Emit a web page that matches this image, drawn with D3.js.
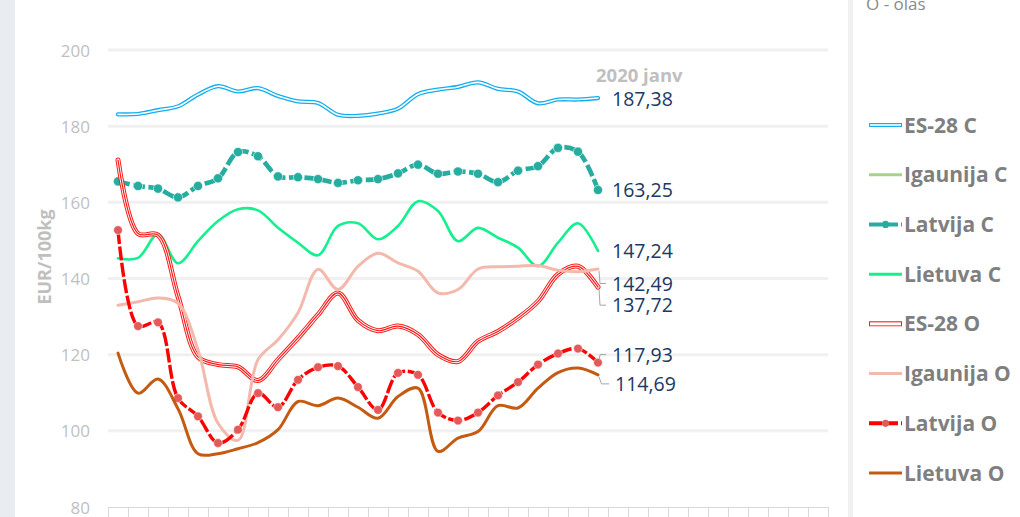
<!DOCTYPE html>
<html><head><meta charset="utf-8">
<script src="https://cdn.jsdelivr.net/npm/d3@7"></script>
<style>
html,body{margin:0;padding:0;background:#fff;overflow:hidden;}
svg{display:block;}
</style></head>
<body>
<svg id="c" width="1020" height="517"></svg>
<script>
// ---- data ----
const monthNames = ["janv","febr","marts","apr","maijs","jūn","jūl","aug","sept","okt","nov","dec"];
const years = ["2018","2019","2020"];
const categories = years.flatMap(y => monthNames.map(m => y + " " + m));
const yTicks = [80,100,120,140,160,180,200];

const seriesNames = ["ES-28 C","Igaunija C","Latvija C","Lietuva C","ES-28 O","Igaunija O","Latvija O","Lietuva O"];

const es28C     = [183.1,183.2,184.2,185.2,188.3,190.5,189.1,190.0,187.9,186.5,186.1,183.0,182.7,183.3,184.6,188.4,189.6,190.3,191.5,189.8,189.1,186.0,187.0,187.0,187.38];
const igaunijaC = [];
const latvijaC  = [165.5,164.3,163.6,161.3,164.3,166.3,173.2,172.1,166.8,166.6,166.1,165.1,165.8,166.1,167.6,169.9,167.5,168.1,167.5,165.3,168.3,169.5,174.3,173.3,163.25];
const lietuvaC  = [145.3,145.4,151.6,144.0,149.8,155.1,158.2,157.9,153.3,149.4,146.1,153.8,154.5,150.3,153.8,160.3,157.7,149.8,153.3,150.7,148.1,143.2,149.4,154.5,147.24];
const es28O     = [171.1,151.8,151.4,135.3,119.4,117.4,116.8,113.2,118.7,124.4,130.5,136.2,129.0,126.3,127.5,125.3,120.0,118.2,123.5,126.1,129.6,134.0,141.1,143.2,137.72];
const igaunijaO = [133.0,133.9,134.9,133.5,121.3,102.0,97.5,118.7,123.9,131.0,142.4,137.1,143.2,146.6,144.1,141.9,136.2,137.1,142.5,143.1,143.2,143.4,142.2,141.8,142.49];
const latvijaO  = [152.7,127.5,128.5,108.6,103.8,96.8,100.3,109.9,106.2,113.4,116.7,117.0,111.5,105.5,115.2,114.7,104.8,102.7,104.8,109.3,112.8,117.4,120.3,121.6,117.93];
const lietuvaO  = [120.4,109.9,113.6,105.8,94.0,94.0,95.3,96.9,100.3,107.7,106.6,108.6,106.2,103.3,109.0,111.2,94.6,98.1,99.8,106.6,106.0,111.2,115.3,116.5,114.69];

const seriesValues = [es28C, igaunijaC, latvijaC, lietuvaC, es28O, igaunijaO, latvijaO, lietuvaO];

const lastLabel = "2020 janv";
const legendNote = "O - olas";
const yTitle = "EUR/100kg";

// ---- styles ----
const styles = [
  {type:"double", color:"#12aeef", w:4.2, inner:1.6},
  {type:"plain",  color:"#a9d18e", w:3},
  {type:"dashdot",color:"#26ada0", w:4.6, dash:"12,3.5", marker:"#26ada0", r:4.6},
  {type:"plain",  color:"#14f08e", w:2.6},
  {type:"triple", color:"#ff1a1a", w:5, inner:3, core:1.2},
  {type:"plain",  color:"#f4b9ad", w:3},
  {type:"dashdot",color:"#ff0000", w:3.4, dash:"14,2.5", marker:"#e45a5a", r:4.4},
  {type:"plain",  color:"#c55a11", w:3}
];
// label offsets (baseline) relative to last point, leader flag
const labelOffsets = [
  {s:0, dy:8, lead:false},
  {s:2, dy:7, lead:false},
  {s:3, dy:7.5, lead:false},
  {s:5, dy:21.5, lead:true},
  {s:4, dy:25, lead:true},
  {s:6, dy:-1, lead:true},
  {s:7, dy:16, lead:true, dx:3}
];

const svg = d3.select("#c");
const W = 1020, H = 517;

// background pieces
svg.append("rect").attr("x",0).attr("y",0).attr("width",15).attr("height",H).attr("fill","#e9ecf1");
svg.append("rect").attr("x",848).attr("y",0).attr("width",5).attr("height",H).attr("fill","#f0f0f0");

const x = d3.scaleBand().domain(categories).range([108, 828]).padding(0);
const y = d3.scaleLinear().domain([80, 200]).range([507, 50]);
const cx = c => x(c) + x.bandwidth()/2;

// gridlines
svg.append("g").selectAll("line").data(yTicks.filter(t => t > 80)).join("line")
  .attr("x1",108).attr("x2",828).attr("y1",d=>y(d)).attr("y2",d=>y(d))
  .attr("stroke","#f0f0f0").attr("stroke-width",3);

// y labels
svg.append("g").selectAll("text").data(yTicks).join("text")
  .attr("x",90).attr("y",d=>y(d)+6.5).attr("text-anchor","end")
  .attr("font-family","Open Sans").attr("font-size",17).attr("fill","#bfbfbf")
  .text(d=>d);

// x axis line and ticks at category boundaries
svg.append("line").attr("x1",108).attr("x2",828).attr("y1",y(80)+0.5).attr("y2",y(80)+0.5)
  .attr("stroke","#d9d9d9").attr("stroke-width",1);
const bounds = categories.map(c => x(c)).concat([x(categories[categories.length-1]) + x.bandwidth()]);
svg.append("g").selectAll("line").data(bounds).join("line")
  .attr("x1",d=>Math.round(d)+0.5).attr("x2",d=>Math.round(d)+0.5)
  .attr("y1",y(80)).attr("y2",H)
  .attr("stroke","#d9d9d9").attr("stroke-width",1);

// y title
svg.append("text").attr("transform","translate(51,257) rotate(-90)")
  .attr("text-anchor","middle").attr("font-family","Open Sans").attr("font-weight","bold")
  .attr("font-size",18).attr("fill","#bfbfbf").text(yTitle);

// lines
const line = d3.line().x((d,i)=>cx(categories[i])).y(d=>y(d)).curve(d3.curveCatmullRom.alpha(0.5));
const gLines = svg.append("g");
seriesValues.forEach((vals, si) => {
  if (!vals.length) return;
  const st = styles[si];
  const dstr = line(vals);
  const base = gLines.append("path").attr("d",dstr).attr("fill","none")
    .attr("stroke",st.color).attr("stroke-width",st.w)
    .attr("stroke-linejoin","round").attr("stroke-linecap", st.type==="dashdot" ? "butt" : "round");
  if (st.dash) base.attr("stroke-dasharray", st.dash);
  if (st.type === "double" || st.type === "triple") {
    gLines.append("path").attr("d",dstr).attr("fill","none").attr("stroke","#fff").attr("stroke-width",st.inner).attr("stroke-linecap","round");
  }
  if (st.type === "triple") {
    gLines.append("path").attr("d",dstr).attr("fill","none").attr("stroke",st.color).attr("stroke-width",st.core).attr("stroke-linecap","round");
  }
  if (st.marker) {
    gLines.append("g").selectAll("circle").data(vals).join("circle")
      .attr("cx",(d,i)=>cx(categories[i])).attr("cy",d=>y(d)).attr("r",st.r)
      .attr("fill",st.marker).attr("stroke","#fff").attr("stroke-width",0.8).attr("stroke-opacity",0.7);
  }
});

// "2020 janv" label
const lastIdx = es28C.length - 1;
const xLast = cx(categories[lastIdx]);
svg.append("text").attr("x",xLast-2).attr("y",82).attr("font-family","Open Sans").attr("font-weight","bold")
  .attr("font-size",18.5).attr("fill","#bfbfbf").text(lastLabel);

// value labels
const fmt = v => v.toFixed(2).replace(".", ",");
labelOffsets.forEach(lo => {
  const v = seriesValues[lo.s][lastIdx];
  const py = y(v);
  const by = py + lo.dy;
  const lx = xLast + 14 + (lo.dx||0);
  svg.append("text").attr("x",lx).attr("y",by).attr("font-family","Open Sans")
    .attr("font-size",19.5).attr("fill","#203864").text(fmt(v));
  if (lo.lead) {
    const ly = by - 7;
    svg.append("path")
      .attr("d", `M${xLast+1},${py + (ly>py?2:-2)}L${xLast+2+(lo.dx||0)/2},${ly}L${lx-6},${ly}`)
      .attr("fill","none").attr("stroke","#a6a6a6").attr("stroke-width",1);
  }
});

// legend
svg.append("text").attr("x",866).attr("y",10).attr("font-family","Open Sans")
  .attr("font-size",17).attr("fill","#8a8a8a").text(legendNote);
const legY = d3.scaleLinear().domain([0, 7]).range([125, 473]);
seriesNames.forEach((name, si) => {
  const st = styles[si];
  const ly = legY(si);
  const g = svg.append("g");
  const p = g.append("line").attr("x1",869).attr("x2",902).attr("y1",ly).attr("y2",ly)
    .attr("stroke",st.color).attr("stroke-width",st.type==="plain"?3:st.w);
  if (st.type === "double" || st.type === "triple") {
    g.append("line").attr("x1",870).attr("x2",901).attr("y1",ly).attr("y2",ly).attr("stroke","#fff").attr("stroke-width",st.inner);
  }
  if (st.type === "dashdot") {
    p.attr("stroke-dasharray","13,3").attr("stroke-width",4);
    g.append("circle").attr("cx",885.5).attr("cy",ly).attr("r",3.6).attr("fill",st.marker);
  }
  g.append("text").attr("x",904).attr("y",ly+7.5).attr("font-family","Open Sans").attr("font-weight","bold")
    .attr("font-size",21).attr("fill","#7f7f7f").text(name);
});
</script>
</body></html>
